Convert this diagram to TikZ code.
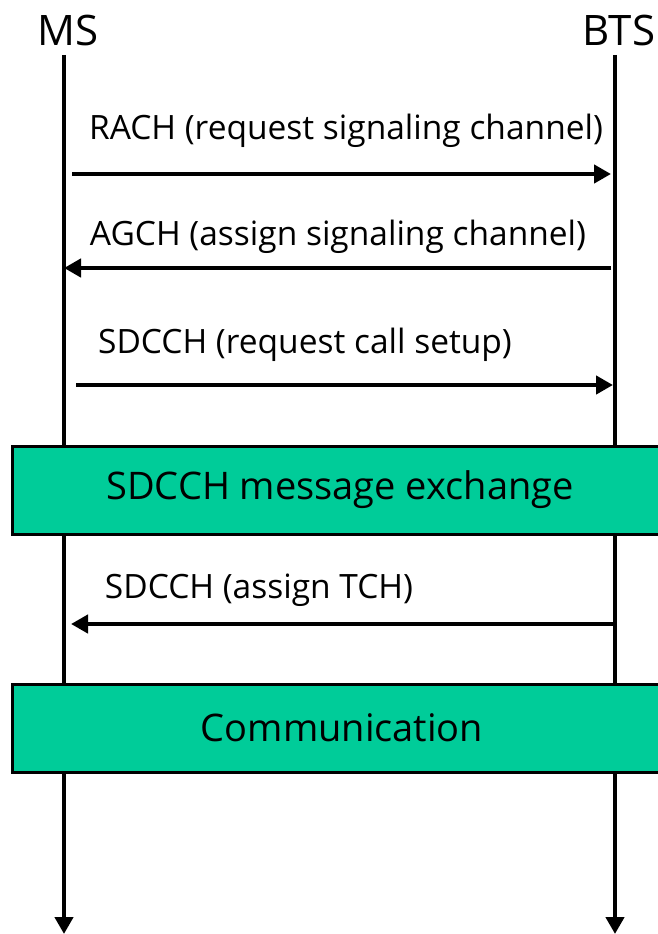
\documentclass[tikz,border=0pt]{standalone}
\usepackage{fontspec}
\setmainfont{Open Sans}
\usetikzlibrary{arrows.meta}
\definecolor{phasegreen}{RGB}{0,204,153}
\begin{document}
\begin{tikzpicture}[x=1pt,y=-1pt,
  tip/.style={-{Triangle[length=17pt,width=18pt]}},
  lifeline/.style={line width=4.5pt,tip},
  msg/.style={line width=4.5pt,tip},
  head/.style={font=\fontsize{42}{48}\selectfont,inner sep=0pt},
  lbl/.style={font=\fontsize{33.5}{40}\selectfont,inner sep=0pt},
  phasebox/.style={draw=black,line width=3pt,fill=phasegreen,
    minimum width=656pt,minimum height=88pt,inner sep=0pt},
  phasetext/.style={font=\fontsize{38}{44}\selectfont,inner sep=0pt}]
\useasboundingbox (0,0) rectangle (658,934);
\clip (0,0) rectangle (658,934);

% entities
\node[head] (ms)  at (68,30)  {MS};
\node[head] (bts) at (619,30) {BTS};

% lifeline end points
\coordinate (msTop)  at (64,55);
\coordinate (msBot)  at (64,934);
\coordinate (btsTop) at (615,55);
\coordinate (btsBot) at (615,934);
\draw[lifeline] (msTop) -- (msBot);
\draw[lifeline] (btsTop) -- (btsBot);

% message end points
\coordinate (m1a) at (72,174);  \coordinate (m1b) at (611,174);
\coordinate (m2a) at (611,268); \coordinate (m2b) at (64,268);
\coordinate (m3a) at (76,385);  \coordinate (m3b) at (613,385);
\coordinate (m4a) at (613,624); \coordinate (m4b) at (71,624);

\draw[msg] (m1a) -- (m1b);
\node[lbl] (l1) at (346,131) {RACH (request signaling channel)};
\draw[msg] (m2a) -- (m2b);
\node[lbl] (l2) at (338,237) {AGCH (assign signaling channel)};
\draw[msg] (m3a) -- (m3b);
\node[lbl] (l3) at (305,345) {SDCCH (request call setup)};
\draw[msg] (m4a) -- (m4b);
\node[lbl] (l4) at (259,590) {SDCCH (assign TCH)};

% phases
\node[phasebox] (exch) at (340,490) {};
\node[phasetext] (exchT) at (340,490) {SDCCH message exchange};
\node[phasebox] (comm) at (340,728) {};
\node[phasetext] (commT) at (342,728) {Communication};
\end{tikzpicture}
\end{document}
